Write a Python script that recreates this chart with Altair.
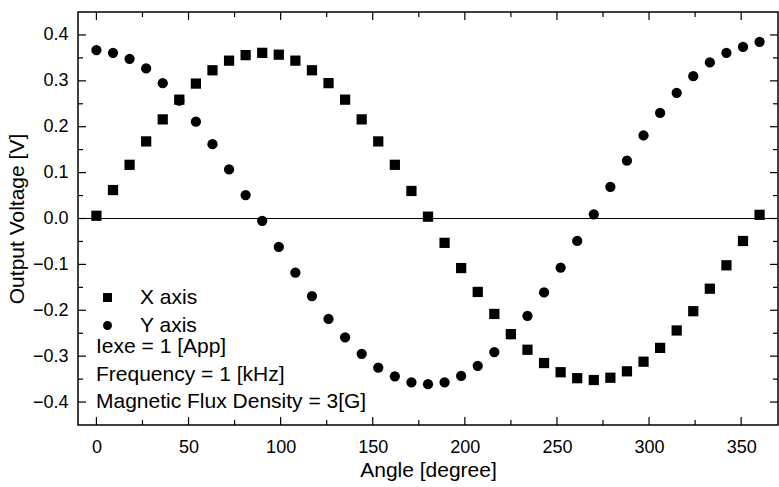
import altair as alt
import pandas as pd

angles = list(range(0, 361, 9))
x_axis_v = [0.006, 0.062, 0.117, 0.168, 0.216, 0.259, 0.294, 0.323, 0.344, 0.356,
            0.361, 0.357, 0.344, 0.323, 0.295, 0.259, 0.216, 0.168, 0.117, 0.060,
            0.004, -0.053, -0.108, -0.160, -0.208, -0.252, -0.286, -0.315, -0.335, -0.348,
            -0.352, -0.347, -0.333, -0.312, -0.282, -0.244, -0.202, -0.153, -0.102, -0.049,
            0.008]
y_axis_v = [0.367, 0.361, 0.348, 0.327, 0.295, 0.257, 0.211, 0.162, 0.107, 0.051,
            -0.005, -0.062, -0.118, -0.169, -0.219, -0.259, -0.295, -0.325, -0.344, -0.357,
            -0.361, -0.357, -0.343, -0.321, -0.291, -0.252, -0.212, -0.161, -0.107, -0.049,
            0.009, 0.069, 0.126, 0.181, 0.230, 0.274, 0.310, 0.340, 0.361, 0.374,
            0.385]
series_names = ["X axis", "Y axis"]
x_major = [0, 50, 100, 150, 200, 250, 300, 350]
x_minor = [25, 75, 125, 175, 225, 275, 325]
y_major = [-0.4, -0.3, -0.2, -0.1, 0.0, 0.1, 0.2, 0.3, 0.4]
y_minor = [-0.35, -0.25, -0.15, -0.05, 0.05, 0.15, 0.25, 0.35]
notes = ["Iexe = 1 [App]", "Frequency = 1 [kHz]", "Magnetic Flux Density = 3[G]"]

FONT = "Liberation Sans"
W, H = 700, 413

df = pd.DataFrame({
    "angle": angles * 2,
    "value": x_axis_v + y_axis_v,
    "series": [series_names[0]] * len(angles) + [series_names[1]] * len(angles),
})

xscale = alt.Scale(domain=[-10, 370], nice=False, zero=False)
yscale = alt.Scale(domain=[-0.45, 0.45], nice=False, zero=False)
xaxis = alt.Axis(title="Angle [degree]", values=x_major, ticks=False, domain=False,
                 grid=False, labelPadding=13, titlePadding=3)
yaxis = alt.Axis(title="Output Voltage [V]", values=y_major, format=".1f",
                 ticks=False, domain=False, grid=False, labelPadding=10, titlePadding=5)

X = alt.X("angle:Q", scale=xscale, axis=xaxis)
Y = alt.Y("value:Q", scale=yscale, axis=yaxis)

points = alt.Chart(df).mark_point(filled=True, opacity=1, color="black", size=105).encode(
    x=X, y=Y,
    shape=alt.Shape("series:N",
                    scale=alt.Scale(domain=series_names, range=["square", "circle"]),
                    legend=alt.Legend(title=None, orient="none", legendX=19, legendY=275,
                                      symbolSize=80, symbolFillColor="black",
                                      symbolStrokeColor="black", labelFontSize=21,
                                      labelFont=FONT, labelOffset=22, rowPadding=6,
                                      padding=0)),
)

zero = alt.Chart(pd.DataFrame({"value": [0.0]})).mark_rule(color="black", strokeWidth=1).encode(y=Y)

def xticks(vals, length):
    d = pd.DataFrame({"angle": vals})
    bottom = alt.Chart(d).mark_rule(color="black", strokeWidth=1.2).encode(
        x=X, y=alt.value(H), y2=alt.value(H - length))
    top = alt.Chart(d).mark_rule(color="black", strokeWidth=1.2).encode(
        x=X, y=alt.value(0), y2=alt.value(length))
    return [bottom, top]

def yticks(vals, length):
    d = pd.DataFrame({"value": vals})
    left = alt.Chart(d).mark_rule(color="black", strokeWidth=1.2).encode(
        y=Y, x=alt.value(0), x2=alt.value(length))
    right = alt.Chart(d).mark_rule(color="black", strokeWidth=1.2).encode(
        y=Y, x=alt.value(W), x2=alt.value(W - length))
    return [left, right]

notes_layer = alt.Chart(pd.DataFrame({"t": [notes]})).mark_text(
    align="left", baseline="middle", font=FONT, fontSize=21, lineHeight=27.5, color="black"
).encode(text="t", x=alt.value(18), y=alt.value(335))

layers = [points, zero] + xticks(x_major, 8) + xticks(x_minor, 5) + yticks(y_major, 8) + yticks(y_minor, 5) + [notes_layer]

chart = alt.layer(*layers).properties(
    width=W, height=H,
    autosize=alt.AutoSizeParams(type="none"),
    padding={"left": 78, "top": 12, "right": 1, "bottom": 62},
).configure_view(stroke="black", strokeWidth=1.5).configure_axis(
    labelFont=FONT, titleFont=FONT, labelFontSize=18, titleFontSize=21,
    labelColor="black", titleColor="black", titleFontWeight="normal",
)

chart.save("out.html", embed_options={"renderer": "svg", "actions": False})
